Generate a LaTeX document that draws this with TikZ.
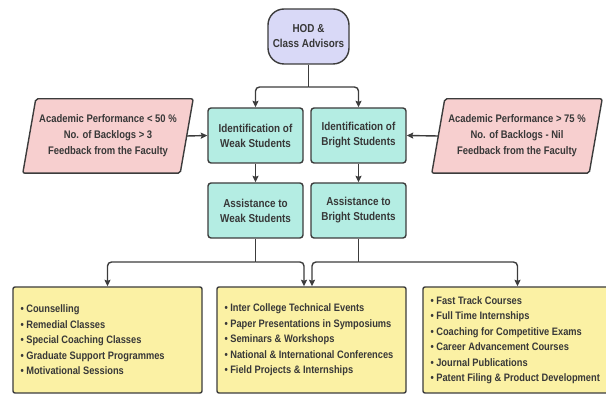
\documentclass[tikz,border=0pt]{standalone}
\usepackage{fontspec}
\setmainfont{Liberation Sans}[FakeStretch=0.86]
\usetikzlibrary{arrows.meta,backgrounds,calc}
\definecolor{edgecol}{HTML}{3C3C3C}
\definecolor{txtcol}{HTML}{383838}
\definecolor{hodfill}{HTML}{D9D9F7}
\definecolor{tealfill}{HTML}{B4EDE3}
\definecolor{pinkfill}{HTML}{F7CFCF}
\definecolor{yelfill}{HTML}{FBF1A4}
\begin{document}
\begin{tikzpicture}[x=1pt,y=-1pt,
  every node/.style={text=txtcol},
  hodbox/.style={draw=edgecol,line width=1.4pt,fill=hodfill,rounded corners=16pt,
    minimum width=81pt,minimum height=55pt,align=center,inner sep=2pt,
    font=\fontsize{11.5}{15}\selectfont\bfseries},
  tealbox/.style={draw=edgecol,line width=1.4pt,fill=tealfill,rounded corners=3pt,
    minimum width=95pt,minimum height=55pt,align=center,inner sep=2pt,
    font=\fontsize{11.5}{15}\selectfont\bfseries},
  parabox/.style={minimum width=157pt,minimum height=74pt,align=center,inner sep=2pt,
    font=\fontsize{11}{16}\selectfont\bfseries},
  paraedge/.style={draw=edgecol,line width=1.4pt,fill=pinkfill,rounded corners=2pt},
  yelbox/.style={draw=edgecol,line width=1.4pt,fill=yelfill,rounded corners=2pt,
    minimum height=106pt,minimum width=189pt},
  yeltext/.style={anchor=west,align=left,inner sep=0pt,
    font=\fontsize{10.8}{15.5}\selectfont\bfseries},
  plainline/.style={draw=edgecol,line width=1.4pt},
  conn/.style={draw=edgecol,line width=1.4pt,rounded corners=4pt,
    -{Stealth[length=6.5pt,width=6pt,inset=1pt]}}
]
\useasboundingbox (0,0) rectangle (606,395);

\node[hodbox] (hod) at (308.5,36.5) {HOD \&\\Class Advisors};

\node[tealbox] (identW) at (255.5,135.5) {Identification of\\Weak Students};
\node[tealbox] (identB) at (358.5,135.5) {Identification of\\Bright Students};
\node[tealbox] (assistW) at (255.5,210.5) {Assistance to\\Weak Students};
\node[tealbox] (assistB) at (358.5,210.5) {Assistance to\\Bright Students};

\node[parabox] (paraL) at (108,136) {Academic Performance < 50 \%\\No. of Backlogs > 3\\Feedback from the Faculty};
\node[parabox] (paraR) at (517,136) {Academic Performance > 75 \%\\No. of Backlogs - Nil\\Feedback from the Faculty};

\begin{scope}[on background layer]
  \foreach \p in {paraL,paraR}{
    \path[paraedge] ($(\p.north west)+(6.5,0)$) -- ($(\p.north east)+(6.5,0)$)
      -- ($(\p.south east)+(-6.5,0)$) -- ($(\p.south west)+(-6.5,0)$) -- cycle;
  }
\end{scope}

\node[yelbox] (yL) at (107.5,340) {};
\node[yelbox] (yM) at (311.5,340) {};
\node[yelbox] (yR) at (517.5,340) {};
\node[yeltext] (yLt) at ([xshift=8pt]yL.west) {\textbullet\ Counselling\\\textbullet\ Remedial Classes\\\textbullet\ Special Coaching Classes\\\textbullet\ Graduate Support Programmes\\\textbullet\ Motivational Sessions};
\node[yeltext] (yMt) at ([xshift=8pt]yM.west) {\textbullet\ Inter College Technical Events\\\textbullet\ Paper Presentations in Symposiums\\\textbullet\ Seminars \& Workshops\\\textbullet\ National \& International Conferences\\\textbullet\ Field Projects \& Internships};
\node[yeltext] (yRt) at ([xshift=8pt]yR.west) {\textbullet\ Fast Track Courses\\\textbullet\ Full Time Internships\\\textbullet\ Coaching for Competitive Exams\\\textbullet\ Career Advancement Courses\\\textbullet\ Journal Publications\\\textbullet\ Patent Filing \& Product Development};

% connectors
\coordinate (hj) at (308.5,87);
\draw[plainline] (hod.south) -- (hj);
\draw[conn] (hj) -| (identW.north);
\draw[conn] (hj) -| (identB.north);

\draw[conn] (paraL.east) -- (identW.west);
\draw[conn] (paraR.west) -- (identB.east);

\draw[conn] (identW.south) -- (assistW.north);
\draw[conn] (identB.south) -- (assistB.north);

\coordinate (wj) at (255.5,262);
\coordinate (bj) at (358.5,262);
\draw[plainline] (assistW.south) -- (wj);
\draw[conn] (wj) -| (yL.north);
\draw[conn] (wj) -| ([xshift=-7.5pt]yM.north);
\draw[plainline] (assistB.south) -- (bj);
\draw[conn] (bj) -| ([xshift=0.5pt]yM.north);
\draw[conn] (bj) -| (yR.north);
\end{tikzpicture}
\end{document}
